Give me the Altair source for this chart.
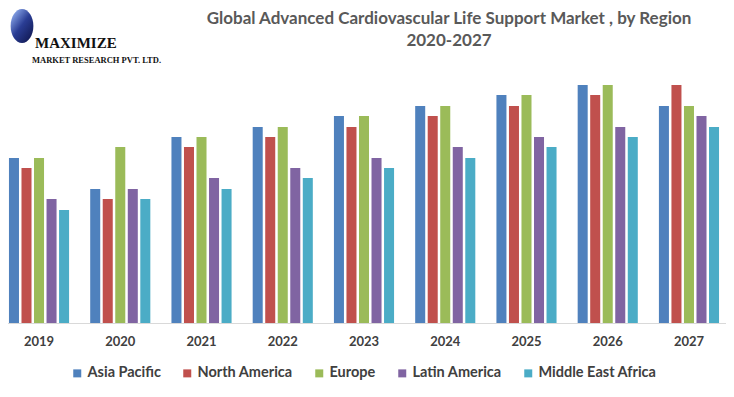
import altair as alt
import pandas as pd

YEARS = ["2019", "2020", "2021", "2022", "2023", "2024", "2025", "2026", "2027"]
REGIONS = ["Asia Pacific", "North America", "Europe", "Latin America", "Middle East Africa"]
COLORS = ["#4F81BD", "#C0504D", "#9BBB59", "#8064A2", "#4BACC6"]

ASIA_PACIFIC = [16.5, 13.4, 18.6, 19.6, 20.7, 21.7, 22.8, 23.8, 21.7]
NORTH_AMERICA = [15.5, 12.4, 17.6, 18.6, 19.6, 20.7, 21.7, 22.8, 23.8]
EUROPE = [16.5, 17.6, 18.6, 19.6, 20.7, 21.7, 22.8, 23.8, 21.7]
LATIN_AMERICA = [12.4, 13.4, 14.5, 15.5, 16.5, 17.6, 18.6, 19.6, 20.7]
MIDDLE_EAST_AFRICA = [11.3, 12.4, 13.4, 14.5, 15.5, 16.5, 17.6, 18.6, 19.6]

TITLE1 = "Global Advanced Cardiovascular Life Support Market , by Region"
TITLE2 = "2020-2027"
LOGO1 = "MAXIMIZE"
LOGO2 = "MARKET RESEARCH PVT. LTD."

series = [ASIA_PACIFIC, NORTH_AMERICA, EUROPE, LATIN_AMERICA, MIDDLE_EAST_AFRICA]
rows = []
for region, vals in zip(REGIONS, series):
    for year, v in zip(YEARS, vals):
        rows.append({"year": year, "region": region, "value": v})
df = pd.DataFrame(rows)

FONT = "Lato"
TXT = "#404040"

bars = alt.Chart(df).mark_bar().encode(
    x=alt.X("year:N", sort=YEARS,
            scale=alt.Scale(range=[-9.6, 721.6], paddingInner=0.26, paddingOuter=0.13),
            axis=alt.Axis(title=None, labelAngle=0, ticks=False, grid=False,
                          domainColor="#d9d9d9", domainWidth=1,
                          labelFont=FONT, labelFontSize=13, labelFontWeight="bold",
                          labelColor=TXT, labelPadding=12)),
    xOffset=alt.XOffset("region:N", sort=REGIONS,
                        scale=alt.Scale(paddingInner=0.2, paddingOuter=0)),
    y=alt.Y("value:Q", scale=alt.Scale(domain=[0, 23.8], nice=False, zero=True), axis=None),
    color=alt.Color("region:N", sort=REGIONS,
                    scale=alt.Scale(domain=REGIONS, range=COLORS),
                    legend=alt.Legend(title=None, orient="none", legendX=62, legendY=281,
                                      direction="horizontal", columns=5,
                                      symbolType="square", symbolSize=64,
                                      symbolStrokeWidth=0, symbolOpacity=1,
                                      labelFont=FONT, labelFontSize=14.5,
                                      labelFontWeight="bold", labelColor=TXT,
                                      labelOffset=3, columnPadding=19)),
)

def text_layer(s, x, y, size, color, font, weight="bold", align="center"):
    return alt.Chart(pd.DataFrame({"t": [s]})).mark_text(
        font=font, fontSize=size, fontWeight=weight, color=color, align=align,
        baseline="middle"
    ).encode(text="t:N", x=alt.value(x), y=alt.value(y))

title1 = text_layer(TITLE1, 441, -66, 17, "#595959", FONT)
title2 = text_layer(TITLE2, 441, -44, 17, "#595959", FONT)

ELLIPSE = "M-0.67,0 A0.67,1 0 1,0 0.67,0 A0.67,1 0 1,0 -0.67,0 Z"
globe_fill = alt.LinearGradient(
    gradient="linear", x1=0.2, y1=0.1, x2=0.9, y2=0.9,
    stops=[alt.GradientStop(color="#7f9be0", offset=0),
           alt.GradientStop(color="#2a3d94", offset=0.45),
           alt.GradientStop(color="#121a55", offset=1)])
globe = alt.Chart(pd.DataFrame({"t": ["globe"]})).mark_point(
    filled=True, shape=ELLIPSE, fill=globe_fill, opacity=1, size=1156, strokeWidth=0
).encode(x=alt.value(14), y=alt.value(-59))
logo1 = text_layer(LOGO1, 27, -42, 15, "#111111", "Liberation Serif", align="left")
logo2 = text_layer(LOGO2, 24, -25, 8.5, "#111111", "Liberation Serif", align="left")

chart = alt.layer(bars, title1, title2, globe, logo1, logo2).properties(
    width=718, height=238,
    background="white",
    autosize=alt.AutoSizeParams(type="none"),
    padding={"left": 0, "top": 77, "right": 0, "bottom": 74},
).configure_view(stroke=None)

chart.save("out.html", embed_options={"renderer": "svg", "actions": False})
